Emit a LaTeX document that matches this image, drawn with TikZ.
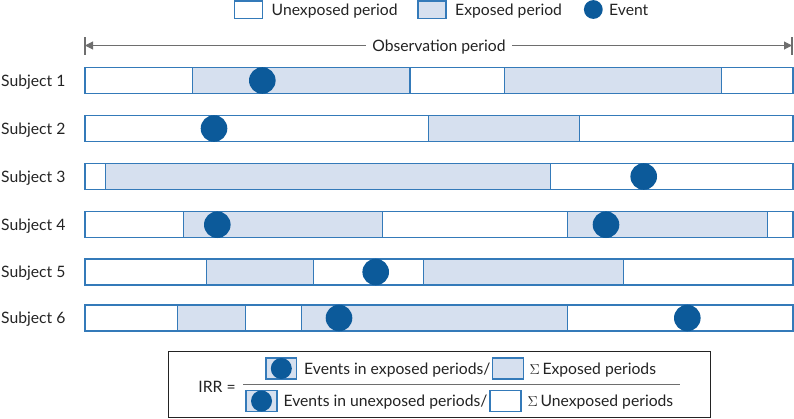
\documentclass[tikz,border=0pt]{standalone}
\usepackage{fontspec}
\setmainfont{Lato}
\usetikzlibrary{arrows.meta}
\definecolor{bordblue}{RGB}{52,122,185}
\definecolor{expfill}{RGB}{214,224,239}
\definecolor{evblue}{RGB}{12,90,154}
\definecolor{txtgray}{RGB}{35,35,35}
\definecolor{linegray}{RGB}{110,110,110}
\tikzset{
  unexp/.style={draw=bordblue,line width=1.3pt,fill=white},
  expo/.style={draw=bordblue,line width=1.3pt,fill=expfill},
  event/.style={fill=evblue},
  lbl/.style={text=txtgray,font=\fontsize{15.7}{18}\selectfont,inner sep=0pt,anchor=base west},
  frm/.style={text=txtgray,font=\fontsize{15.7}{18}\selectfont,inner sep=0pt,anchor=base west},
}
\begin{document}
\begin{tikzpicture}[x=1pt,y=-1pt]
\useasboundingbox (0,0) rectangle (794,418);
% legend
\draw[unexp,line width=1.1pt] (234.5,1) rectangle (262.5,18.5);
\node[lbl] (lu) at (271.5,15.5) {Unexposed period};
\draw[expo,line width=1.1pt] (418,1) rectangle (446,18.5);
\node[lbl] (le) at (455,15.5) {Exposed period};
\fill[event] (593.3,9.5) circle (9.4);
\node[lbl] (lev) at (609,15.5) {Event};
% observation period
\coordinate (oa) at (85,45.5);
\coordinate (ob) at (792,45.5);
\draw[linegray,line width=1pt,{Triangle[length=8pt,width=8pt]}-{Triangle[length=8pt,width=8pt]}] (oa) -- (ob);
\draw[linegray,line width=1.5pt] ([yshift=-9pt]oa) -- ([yshift=9pt]oa);
\draw[linegray,line width=1.5pt] ([yshift=-9pt]ob) -- ([yshift=9pt]ob);
\node[lbl,anchor=base,fill=white,inner xsep=6pt,inner ysep=2pt] (obs) at (439,51) {Observation period};
% Subject 1
\node[lbl] (s1) at (1,86) {Subject 1};
\draw[unexp] (85,67.5) rectangle (793,93.5);
\draw[expo] (192.3,67.5) rectangle (410,93.5);
\draw[expo] (504.3,67.5) rectangle (721.7,93.5);
\fill[event] (262.3,80.5) circle (13.3);
% Subject 2
\node[lbl] (s2) at (1,134) {Subject 2};
\draw[unexp] (85,115.5) rectangle (793,141.5);
\draw[expo] (428.7,115.5) rectangle (579.3,141.5);
\fill[event] (214,128.5) circle (13.3);
% Subject 3
\node[lbl] (s3) at (1,182) {Subject 3};
\draw[unexp] (85,163.5) rectangle (793,189.5);
\draw[expo] (105.3,163.5) rectangle (550.3,189.5);
\fill[event] (643.7,176.5) circle (13.3);
% Subject 4
\node[lbl] (s4) at (1,230.2) {Subject 4};
\draw[unexp] (85,211.7) rectangle (793,237.7);
\draw[expo] (183.7,211.7) rectangle (382.7,237.7);
\draw[expo] (567.3,211.7) rectangle (767.3,237.7);
\fill[event] (217.3,224.7) circle (13.3);
\fill[event] (606,224.7) circle (13.3);
% Subject 5
\node[lbl] (s5) at (1,277.5) {Subject 5};
\draw[unexp] (85,259) rectangle (793,285);
\draw[expo] (206.7,259) rectangle (313.3,285);
\draw[expo] (423.7,259) rectangle (623.7,285);
\fill[event] (375.7,272) circle (13.3);
% Subject 6
\node[lbl] (s6) at (1,323.5) {Subject 6};
\draw[unexp] (85,305) rectangle (793,331);
\draw[expo] (177.3,305) rectangle (245.7,331);
\draw[expo] (301.3,305) rectangle (567.3,331);
\fill[event] (339,318) circle (13.3);
\fill[event] (687.3,318) circle (13.3);
% formula box
\draw[draw=txtgray,line width=1pt] (168.5,351.5) rectangle (710,417);
\node[frm,anchor=base] (irr) at (217,392) {IRR =};
\coordinate (fl) at (243,384.3);
\coordinate (fr) at (680,384.3);
\draw[linegray,line width=1pt] (fl) -- (fr);
% numerator
\draw[expo,line width=1.1pt] (266,358) rectangle (296.7,379);
\fill[event] (281.3,368.5) circle (10.5);
\node[frm] (num) at (304,374) {Events in exposed periods/};
\draw[expo,line width=1.1pt] (492.7,358) rectangle (523.3,379);
\node[frm] (nums) at (529.5,374) {$\Sigma$\,Exposed periods};
% denominator
\draw[expo,line width=1.1pt] (246,390.5) rectangle (277,411.5);
\fill[event] (261.5,401) circle (10.5);
\node[frm] (den) at (283.4,406.5) {Events in unexposed periods/};
\draw[unexp,line width=1.1pt] (490,390.5) rectangle (521,411.5);
\node[frm] (dens) at (527.5,406.5) {$\Sigma$\,Unexposed periods};
\end{tikzpicture}
\end{document}
